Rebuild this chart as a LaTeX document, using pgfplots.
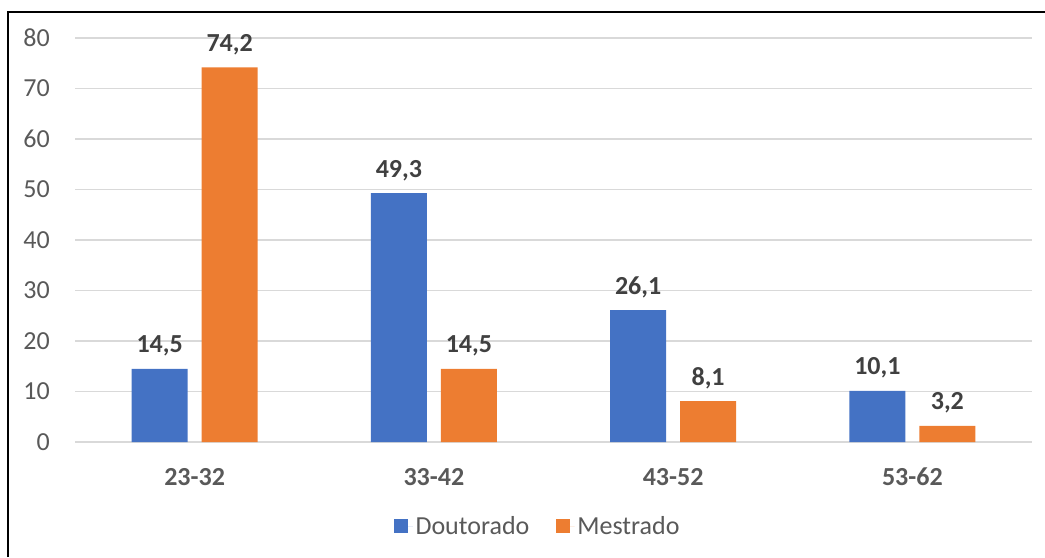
\documentclass[border=0pt]{standalone}
\usepackage{pgfplots}
\pgfplotsset{compat=1.18}
\usepackage{fontspec}
\setmainfont{Carlito}
\definecolor{doutblue}{HTML}{4472C4}
\definecolor{mestorange}{HTML}{ED7D31}
\definecolor{ticktext}{HTML}{595959}
\definecolor{labeltext}{HTML}{404040}
\definecolor{gridgray}{HTML}{D9D9D9}

\begin{document}
\begin{tikzpicture}
\path[use as bounding box] (0,0) rectangle (783.75pt,417.75pt);
% outer frame (top and left edges)
\draw[line width=1.5pt, black] (6pt,0pt) -- (6pt,408.75pt) -- (783.75pt,408.75pt);
\begin{axis}[
  at={(56.25pt,86.25pt)}, anchor=south west,
  scale only axis,
  width=717.75pt, height=303pt,
  xmin=-0.5, xmax=3.5,
  ymin=0, ymax=80,
  ytick={0,10,...,80},
  xtick={0,1,2,3},
  xticklabels={23-32,33-42,43-52,53-62},
  axis line style={draw=none},
  major tick length=0pt,
  ymajorgrids,
  grid style={gridgray, line width=1pt},
  /pgf/number format/assume math mode=true,
  tick label style={font=\fontsize{19.5}{23}\selectfont, text=ticktext},
  x tick label style={font=\bfseries\fontsize{19.5}{23}\selectfont, anchor=center, yshift=-26.25pt},
  y tick label style={inner sep=0pt, anchor=east, xshift=-18.75pt},
  ybar=10.5pt,
  bar width=42pt,
  nodes near coords={\pgfmathprintnumber[fixed,fixed zerofill,precision=1,use comma,assume math mode=true]{\pgfplotspointmeta}},
  nodes near coords style={font=\bfseries\fontsize{19.5}{23}\selectfont, text=labeltext, anchor=base, inner sep=0pt, yshift=12pt},
  legend style={at={(0.484,-0.208)}, anchor=center, draw=none, fill=none,
    legend columns=2, font=\fontsize{19.5}{23}\selectfont, text=ticktext,
    /tikz/every even column/.append style={column sep=18pt},
    legend cell align=left},
  legend image code/.code={\fill[#1] (0pt,-5.25pt) rectangle (10.5pt,5.25pt);
    \path (0pt,0pt) -- (14pt,0pt);},
]
\draw[gridgray, line width=1pt] (axis cs:-0.5,0) -- (axis cs:3.5,0);
\addplot[fill=doutblue, draw=none] coordinates {(0,14.5) (1,49.3) (2,26.1) (3,10.1)};
\addplot[fill=mestorange, draw=none] coordinates {(0,74.2) (1,14.5) (2,8.1) (3,3.2)};
\legend{Doutorado, Mestrado}
\end{axis}
\end{tikzpicture}
\end{document}
